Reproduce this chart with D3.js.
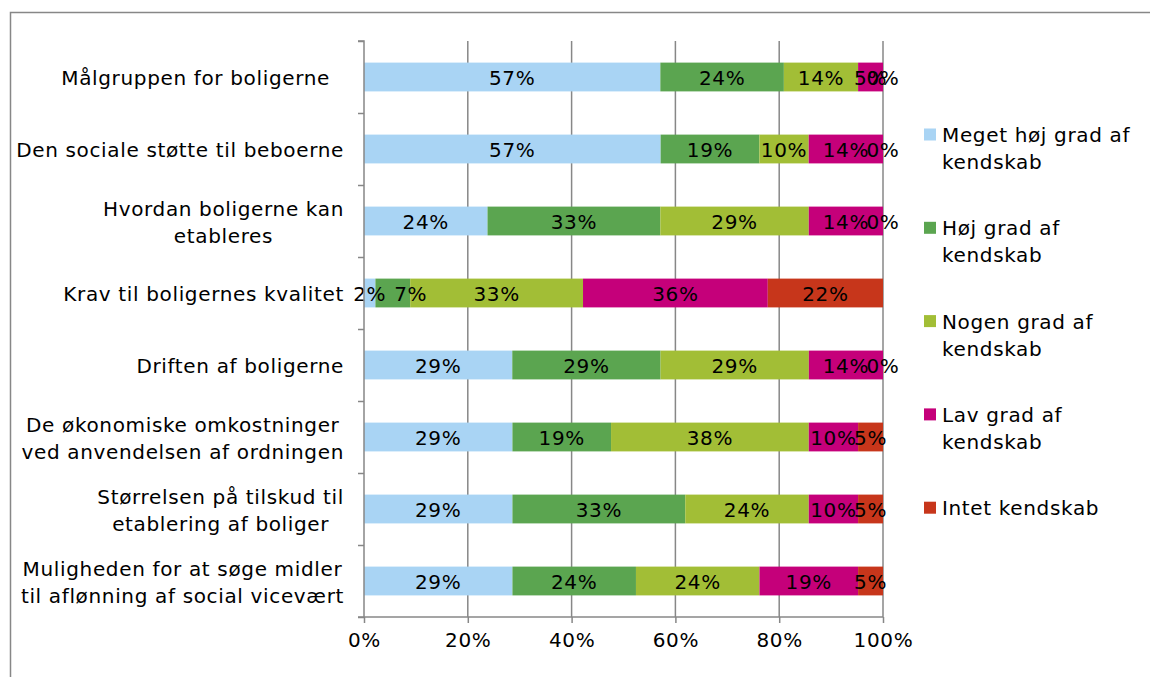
<!DOCTYPE html>
<html>
<head>
<meta charset="utf-8">
<script src="https://cdn.jsdelivr.net/npm/d3@7"></script>
<style>
  html, body { margin: 0; padding: 0; background: #fff; }
  svg text { font-family: Verdana, "DejaVu Sans", sans-serif; fill: #000; letter-spacing: 0.65px; white-space: pre; }
</style>
</head>
<body>
<svg id="chart" width="1150" height="677"></svg>
<script>
// ---- data (percent of respondents) ----
const categories = [
  ["Målgruppen for boligerne  "],
  ["Den sociale støtte til beboerne"],
  ["Hvordan boligerne kan", "etableres"],
  ["Krav til boligernes kvalitet"],
  ["Driften af boligerne"],
  ["De økonomiske omkostninger", "ved anvendelsen af ordningen"],
  ["Størrelsen på tilskud til", "etablering af boliger"],
  ["Muligheden for at søge midler", "til aflønning af social vicevært"]
];
const seriesNames = [
  ["Meget høj grad af", "kendskab"],
  ["Høj grad af", "kendskab"],
  ["Nogen grad af", "kendskab"],
  ["Lav grad af", "kendskab"],
  ["Intet kendskab"]
];
const megetHoej = [57.1, 57.1, 23.8, 2.2, 28.6, 28.6, 28.6, 28.6];
const hoej      = [23.8, 19.0, 33.3, 6.7, 28.6, 19.0, 33.3, 23.8];
const nogen     = [14.3, 9.5, 28.6, 33.3, 28.6, 38.1, 23.8, 23.8];
const lav       = [4.8, 14.3, 14.3, 35.6, 14.3, 9.5, 9.5, 19.0];
const intet     = [0, 0, 0, 22.2, 0, 4.8, 4.8, 4.8];
const xTicks = [0, 0.2, 0.4, 0.6, 0.8, 1.0];
const colors = ["#A9D4F4", "#5BA550", "#A2BE36", "#C5007A", "#C7361B"];

// ---- build table ----
const seriesValues = [megetHoej, hoej, nogen, lav, intet];
const keys = seriesNames.map((d, i) => "s" + i);
const rows = categories.map((c, i) => {
  const r = { idx: i };
  keys.forEach((k, j) => r[k] = seriesValues[j][i]);
  return r;
});
const stacked = d3.stack().keys(keys).offset(d3.stackOffsetExpand)(rows);

const svg = d3.select("#chart");
const font = 20;

// outer border
svg.append("path")
  .attr("d", "M10.5,700 L10.5,12.5 L1160,12.5")
  .attr("fill", "none").attr("stroke", "#878787").attr("stroke-width", 1.5);

const pLeft = 364, pRight = 883, pTop = 41, pBottom = 617;
const x = d3.scaleLinear().domain([0, 1]).range([pLeft, pRight]);
const y = d3.scaleBand().domain(d3.range(categories.length)).range([pTop, pBottom])
  .paddingInner(0.6).paddingOuter(0.3);

// gridlines
svg.append("g").selectAll("line").data(xTicks.slice(1)).join("line")
  .attr("x1", d => x(d)).attr("x2", d => x(d))
  .attr("y1", pTop).attr("y2", pBottom)
  .attr("stroke", "#878787").attr("stroke-width", 1.5);

// bars
const layers = svg.append("g").selectAll("g").data(stacked).join("g")
  .attr("fill", (d, i) => colors[i]);
layers.selectAll("rect").data(d => d).join("rect")
  .attr("x", d => x(d[0]))
  .attr("width", d => x(d[1]) - x(d[0]))
  .attr("y", (d, i) => y(i))
  .attr("height", y.bandwidth());

// data labels
const labelG = svg.append("g");
const labelNodes = stacked.map((layer, si) =>
  labelG.append("g").selectAll("text").data(layer).join("text")
    .attr("x", d => (x(d[0]) + x(d[1])) / 2)
    .attr("y", (d, i) => y(i) + y.bandwidth() / 2)
    .attr("dy", "0.4em")
    .attr("text-anchor", "middle")
    .attr("font-size", font)
    .text(d => Math.round(d.data[keys[si]]) + "%")
    .nodes());
// nudge a label right when it collides with the previous non-empty label in its row
categories.forEach((c, ri) => {
  let prevEnd = null;
  stacked.forEach((layer, si) => {
    const d = layer[ri];
    if (d[1] - d[0] <= 0) return;
    const node = labelNodes[si][ri];
    const w = node.getComputedTextLength();
    let cx = +node.getAttribute("x");
    if (prevEnd !== null && cx - w / 2 < prevEnd - 3) {
      cx = prevEnd + 8 + w / 2;
      node.setAttribute("x", cx);
    }
    prevEnd = cx + w / 2;
  });
});

// y axis (band boundary ticks)
const yAxisScale = d3.scaleLinear().domain([0, categories.length]).range([pTop, pBottom]);
const yAxis = svg.append("g").attr("transform", `translate(${pLeft},0)`)
  .call(d3.axisLeft(yAxisScale).tickValues(d3.range(categories.length + 1)).tickSize(6).tickFormat(""));
yAxis.selectAll("path,line").attr("stroke", "#878787").attr("stroke-width", 1.5);
yAxis.select(".domain").attr("d", `M-6,${pTop}H0V${pBottom}`);

// x axis
const xAxis = svg.append("g").attr("transform", `translate(0,${pBottom})`)
  .call(d3.axisBottom(x).tickValues(xTicks).tickSize(6).tickSizeOuter(0).tickPadding(10)
    .tickFormat(d3.format(".0%")));
xAxis.selectAll("path,line").attr("stroke", "#878787").attr("stroke-width", 1.5);
xAxis.select(".domain").attr("d", `M${pLeft - 6},0H${pRight}`);
xAxis.selectAll("text").attr("font-size", font).attr("font-family", "Verdana, 'DejaVu Sans', sans-serif").attr("fill", "#000");

// category labels (block right-aligned, lines centred within block)
const lineH = 27;
const labelRight = 344;
categories.forEach((lines, i) => {
  const g = svg.append("g");
  const cy = y(i) + y.bandwidth() / 2;
  const texts = lines.map((t, j) => g.append("text")
    .attr("font-size", font)
    .attr("y", cy + (j - (lines.length - 1) / 2) * lineH)
    .attr("dy", "0.4em")
    .text(t));
  const widths = texts.map(t => t.node().getComputedTextLength());
  const maxW = d3.max(widths);
  texts.forEach(t => t.attr("x", labelRight - maxW / 2).attr("text-anchor", "middle"));
});

// legend
const legTop = 142, legStep = 93.3;
seriesNames.forEach((lines, i) => {
  const by = legTop + i * legStep;
  svg.append("rect").attr("x", 924).attr("y", by - 13.5).attr("width", 12).attr("height", 12)
    .attr("fill", colors[i]);
  lines.forEach((t, j) => {
    svg.append("text").attr("x", 942).attr("y", by + j * lineH)
      .attr("font-size", font).text(t);
  });
});
</script>
</body>
</html>
